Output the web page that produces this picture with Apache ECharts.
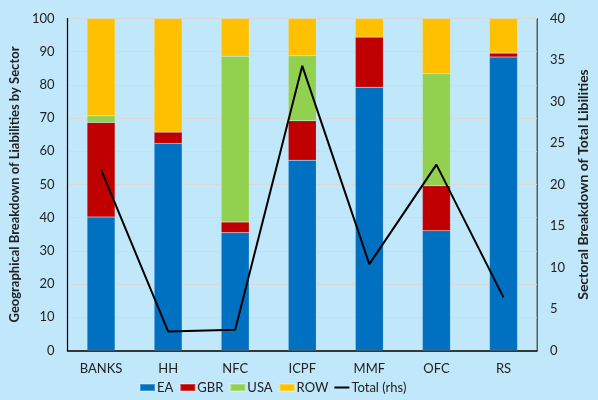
<!DOCTYPE html>
<html><head><meta charset="utf-8">
<script src="https://cdn.jsdelivr.net/npm/echarts@6/dist/echarts.min.js"></script>
<style>html,body{margin:0;padding:0;background:#c1e7fb;}#c{width:598px;height:400px;}</style>
</head><body><div id="c"></div>
<script>
const categories = ['BANKS','HH','NFC','ICPF','MMF','OFC','RS'];
const EA  = [40.2, 62.4, 35.5, 57.3, 79.3, 36.1, 88.4];
const GBR = [28.5, 3.4, 3.2, 11.9, 15.1, 13.5, 1.2];
const USA = [2.0, 0, 49.9, 19.6, 0, 33.8, 0];
const ROW = [29.3, 34.2, 11.4, 11.2, 5.6, 16.6, 10.4];
const TOTAL = [21.8, 2.3, 2.5, 34.3, 10.4, 22.4, 6.4];

const font = 'Lato, "Open Sans", sans-serif';
const chart = echarts.init(document.getElementById('c'), null, {renderer:'canvas'});
function bar(name, data, color){
  return {name, type:'bar', stack:'a', data, barWidth:28, yAxisIndex:0,
    itemStyle:{color, borderColor:'rgba(255,255,255,0.25)', borderWidth:0.5}, emphasis:{disabled:true}};
}
chart.setOption({
  backgroundColor:'#c1e7fb',
  animation:false,
  textStyle:{fontFamily:font},
  grid:{left:61, right:47, top:18.5, bottom:49.5, show:true, borderColor:'#595959', borderWidth:1},
  legend:{bottom:1, left:134, itemWidth:15, itemHeight:7, itemGap:6,
    textStyle:{fontFamily:font, fontSize:13, color:'#222', padding:[0,0,0,-3]},
    data:[{name:'EA',icon:'rect'},{name:'GBR',icon:'rect'},{name:'USA',icon:'rect'},{name:'ROW',icon:'rect'},
      {name:'Total (rhs)', icon:'path://M0,0 L15,0 L15,2 L0,2 Z', itemStyle:{color:'#000'}}]},
  xAxis:{type:'category', data:categories,
    axisLine:{lineStyle:{color:'#000', width:1.5}}, axisTick:{show:false},
    axisLabel:{fontFamily:font, fontSize:13, color:'#222', margin:12}},
  yAxis:[
    {type:'value', min:0, max:100, interval:10,
     name:'Geographical Breakdown of Liabilities by Sector', nameLocation:'middle', nameGap:38,
     nameTextStyle:{fontFamily:font, fontSize:13, fontWeight:'bold', color:'#222'},
     axisLine:{show:true, lineStyle:{color:'#000', width:1.2}}, axisTick:{show:false},
     axisLabel:{fontFamily:font, fontSize:13, color:'#222', margin:13},
     splitLine:{lineStyle:{color:'#d9d9d9', width:1}}},
    {type:'value', min:0, max:40, interval:5, position:'right',
     name:'Sectoral Breakdown of Total Libilities', nameLocation:'middle', nameGap:35, nameRotate:90,
     nameTextStyle:{fontFamily:font, fontSize:14, fontWeight:'bold', color:'#222'},
     axisLine:{show:true, lineStyle:{color:'#595959', width:1}}, axisTick:{show:false},
     axisLabel:{fontFamily:font, fontSize:13, color:'#222', margin:13},
     splitLine:{show:false}}
  ],
  series:[
    bar('EA', EA, '#0070c0'),
    bar('GBR', GBR, '#c00000'),
    bar('USA', USA, '#92d050'),
    bar('ROW', ROW, '#ffc000'),
    {name:'Total (rhs)', type:'line', yAxisIndex:1, data:TOTAL, symbol:'none',
     lineStyle:{color:'#000', width:2}, itemStyle:{color:'#000'}, z:10}
  ]
});
</script></body></html>
